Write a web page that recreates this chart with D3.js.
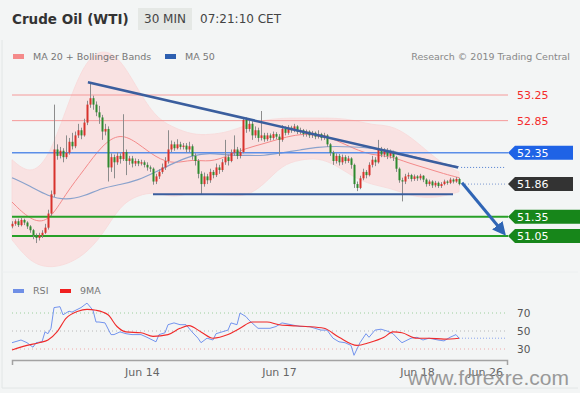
<!DOCTYPE html>
<html>
<head>
<meta charset="utf-8">
<script src="https://cdn.jsdelivr.net/npm/d3@7"></script>
<style>
  body { margin: 0; background: #f3f5f5; font-family: "DejaVu Sans", sans-serif; }
  svg { display: block; }
</style>
</head>
<body>
<div class="container"></div>
<script>
const width = 580, height = 393;

// 30 min candles, open = previous close
const firstOpen = 51.20;
const closes = [
  51.24,51.28,51.22,51.30,51.26,51.20,51.14,51.06,51.02,51.06,
  51.10,51.18,51.40,51.70,52.40,52.30,52.38,52.28,52.35,52.52,
  52.45,52.62,52.70,52.62,52.82,53.10,53.20,53.10,52.98,52.90,
  52.68,52.72,52.12,52.28,52.20,52.30,52.25,52.36,52.22,52.26,
  52.18,52.22,52.18,52.20,52.16,52.12,52.10,51.90,51.98,52.05,
  52.12,52.22,52.40,52.48,52.42,52.48,52.44,52.46,52.40,52.45,
  52.30,52.22,52.02,51.86,51.98,51.92,52.05,52.00,52.12,52.08,
  52.20,52.28,52.22,52.35,52.40,52.30,52.36,52.86,52.72,52.80,
  52.62,52.70,52.58,52.62,52.56,52.62,52.58,52.64,52.60,52.55,
  52.72,52.66,52.74,52.70,52.76,52.68,52.70,52.64,52.68,52.62,
  52.66,52.60,52.64,52.58,52.62,52.48,52.35,52.22,52.30,52.20,
  52.28,52.22,52.26,52.16,51.86,51.80,51.95,52.05,52.00,52.16,
  52.24,52.20,52.40,52.32,52.38,52.30,52.36,52.28,52.10,51.92,
  51.90,51.98,52.00,51.94,51.98,51.95,51.99,51.93,51.86,51.90,
  51.84,51.88,51.83,51.86,51.90,51.88,51.93,51.90,51.94,51.86
];
const highs = [
  51.28,51.31,51.32,51.33,51.32,51.28,51.22,51.16,51.09,51.10,
  51.14,51.24,51.46,51.76,53.10,52.48,52.44,52.42,52.62,52.58,
  52.66,52.68,52.80,52.74,52.88,53.16,53.45,53.24,53.15,53.08,
  52.94,52.80,52.76,52.34,52.32,52.36,52.34,52.95,52.40,52.30,
  52.30,52.26,52.25,52.24,52.23,52.20,52.15,52.12,52.02,52.09,
  52.18,52.28,52.70,52.54,52.52,52.56,52.52,52.50,52.50,52.52,
  52.48,52.34,52.25,52.06,52.04,52.02,52.10,52.08,52.18,52.16,
  52.25,52.55,52.32,52.40,52.62,52.44,52.42,52.90,52.90,52.86,
  52.84,52.76,52.74,53.00,52.66,52.66,52.65,52.68,52.67,52.64,
  52.78,52.76,52.78,52.77,52.80,52.78,52.74,52.72,52.71,52.70,
  52.69,52.68,52.70,52.66,52.66,52.64,52.50,52.38,52.34,52.33,
  52.32,52.31,52.30,52.28,52.18,51.90,51.99,52.10,52.08,52.20,
  52.30,52.28,52.55,52.44,52.42,52.42,52.40,52.38,52.30,52.12,
  51.96,52.02,52.04,52.02,52.01,52.00,52.02,52.00,51.95,51.93,
  51.92,51.91,51.90,51.89,51.93,51.92,51.96,51.95,51.97,51.96
];
const lows = [
  51.17,51.21,51.19,51.20,51.22,51.16,51.10,51.00,50.94,50.98,
  51.02,51.08,51.15,51.36,51.66,52.24,52.26,52.20,52.25,52.32,
  52.40,52.42,52.58,52.56,52.60,52.78,53.05,53.02,52.92,52.80,
  52.55,52.62,51.90,52.05,51.95,52.16,52.18,52.22,52.00,52.16,
  52.12,52.14,52.14,52.15,52.12,52.07,52.05,51.85,51.86,51.94,
  52.02,52.08,52.18,52.36,52.38,52.40,52.40,52.40,52.35,52.36,
  52.24,52.15,51.95,51.70,51.82,51.86,51.88,51.95,51.97,52.02,
  52.05,52.16,52.15,52.20,52.30,52.25,52.26,52.34,52.66,52.68,
  52.55,52.58,52.52,52.54,52.52,52.53,52.54,52.55,52.56,52.30,
  52.52,52.62,52.63,52.66,52.67,52.64,52.64,52.60,52.60,52.58,
  52.58,52.56,52.57,52.54,52.55,52.44,52.30,52.16,52.18,52.15,
  52.16,52.18,52.19,52.10,51.80,51.75,51.78,51.92,51.95,51.98,
  52.12,52.14,52.18,52.28,52.28,52.25,52.26,52.22,52.05,51.88,
  51.59,51.86,51.94,51.90,51.91,51.91,51.92,51.89,51.82,51.83,
  51.80,51.81,51.80,51.80,51.84,51.85,51.86,51.87,51.88,51.84
];

// indicator readings (candle index)
const bandIdx = [0,6,12,18,24,30,36,42,48,54,60,66,72,78,84,90,96,102,108,114,120,126,132,138,144,149];
const ma20 = [51.58,51.30,51.24,51.72,52.08,52.47,52.66,52.50,52.27,52.17,52.25,52.20,52.30,52.42,52.49,52.58,52.64,52.64,52.55,52.41,52.31,52.30,52.19,52.11,52.02,51.96];
const bbUpper = [52.24,52.00,52.24,53.02,53.76,53.98,53.83,53.33,52.89,52.74,52.63,52.63,52.67,52.78,52.86,52.89,52.89,52.89,52.89,52.86,52.78,52.78,52.63,52.39,52.16,52.05];
const bbLower = [50.99,50.64,50.55,50.60,50.75,51.05,51.53,51.69,51.74,51.64,51.74,51.69,51.69,51.66,51.85,52.16,52.24,52.27,52.16,51.96,51.85,51.80,51.69,51.64,51.67,51.74];
const ma50 = [51.96,51.83,51.67,51.61,51.67,51.80,51.85,51.92,52.05,52.19,52.31,52.35,52.31,52.31,52.30,52.35,52.39,52.44,52.45,52.44,52.42,52.39,52.31,52.24,52.17,52.13];

const rsiIdx = [0,3,5,7,8,10,11,12,13,14,16,17,19,20,23,25,27,28,29,31,33,34,36,38,40,43,45,48,49,51,52,54,56,58,60,62,63,65,67,68,69,72,73,75,76,78,79,82,84,86,88,90,93,96,99,103,105,107,109,111,113,114,116,118,119,121,123,125,127,129,130,133,135,137,139,142,144,146,148,149];
const rsiVals = [37,40,37,32,37,38,49,47,53,76,77,68,72,71,76,81,73,60,60,59,46,46,49,47,46,46,43,38,46,48,57,59,57,57,49,42,37,42,40,47,48,51,59,57,70,66,62,53,53,53,55,59,57,55,55,51,51,42,38,37,34,23,37,47,43,51,52,50,47,40,37,42,43,40,42,40,39,43,46,42];
const rsiMaIdx = [0,5,9,12,15,18,22,25,28,32,35,38,43,47,52,56,59,63,67,72,76,80,85,89,93,98,104,109,115,119,124,127,130,135,139,144,149];
const rsiMaVals = [29,34,37,40,49,64,72,74,73,68,55,49,48,44,46,53,56,49,42,46,53,60,60,57,56,55,53,43,34,37,43,49,48,42,42,41,42];

const levels = [53.25, 52.85, 52.35, 51.86, 51.35, 51.05];
const trendline = [[25.3, 53.45], [148.7, 52.12]];
const support = [[47, 51.70], [147, 51.70]];
const forecast = [[150, 51.88], [163.5, 51.12]];
const dateTicks = [43.3, 89, 135, 157.7];
const dateLabels = ['Jun 14', 'Jun 17', 'Jun 18', 'Jun 26'];
const rsiTicks = [70, 50, 30];

const x = d3.scaleLinear().domain([0, 165]).range([12, 507]);
const y = d3.scaleLinear().domain([51.05, 53.25]).range([236, 95]);
const yr = d3.scaleLinear().domain([30, 70]).range([349, 313]);

const svg = d3.select('.container')
  .append('svg')
  .attr('width', width)
  .attr('height', height);

const defs = svg.append('defs');
defs.append('clipPath').attr('id', 'plot')
  .append('rect').attr('x', 6).attr('y', 44).attr('width', 574).attr('height', 228);
defs.append('marker')
  .attr('id', 'head')
  .attr('viewBox', '0 0 10 10')
  .attr('refX', 6).attr('refY', 5)
  .attr('markerWidth', 4.5).attr('markerHeight', 4.5)
  .attr('orient', 'auto')
  .append('path').attr('d', 'M0,0L10,5L0,10z').attr('fill', '#2f65b5');

// frame
svg.append('line').attr('x1', 2).attr('x2', 2).attr('y1', 40).attr('y2', 388).attr('stroke', '#e2e6e6');
svg.append('line').attr('x1', 2).attr('x2', 578).attr('y1', 388).attr('y2', 388).attr('stroke', '#e2e6e6');
svg.append('line').attr('x1', 2).attr('x2', 578).attr('y1', 272).attr('y2', 272).attr('stroke', '#eceff0');

// header
svg.append('text').attr('x', 12).attr('y', 24)
  .attr('font-size', 13.5).attr('font-weight', 'bold').attr('fill', '#333')
  .text('Crude Oil (WTI)');
svg.append('rect').attr('x', 138).attr('y', 8).attr('width', 54).attr('height', 22).attr('fill', '#e5e8e5');
svg.append('text').attr('x', 165).attr('y', 23).attr('text-anchor', 'middle')
  .attr('font-size', 12).attr('fill', '#444').text('30 MIN');
svg.append('text').attr('x', 200).attr('y', 23)
  .attr('font-size', 12).attr('fill', '#444').text('07:21:10 CET');

const plot = svg.append('g').attr('clip-path', 'url(#plot)');

// bollinger band
const bandData = bandIdx.map((k, i) => ({k, m: ma20[i], u: bbUpper[i], l: bbLower[i], m50: ma50[i]}));
plot.append('path')
  .datum(bandData)
  .attr('fill', '#fcdcdc')
  .attr('opacity', 0.75)
  .attr('stroke', '#fad0d0')
  .attr('stroke-width', 0.8)
  .attr('d', d3.area().curve(d3.curveBasis).x(d => x(d.k)).y0(d => y(d.l)).y1(d => y(d.u)));

// legend
const legend = [['#f48a8a', 'MA 20 + Bollinger Bands', 13], ['#2d5fb0', 'MA 50', 165]];
legend.forEach(d => {
  svg.append('rect').attr('x', d[2]).attr('y', 54).attr('width', 11).attr('height', 5).attr('fill', d[0]);
  svg.append('text').attr('x', d[2] + 20).attr('y', 57).attr('dy', '0.35em')
    .attr('font-size', 9.5).attr('fill', '#777').text(d[1]);
});
svg.append('text').attr('x', 570).attr('y', 57).attr('dy', '0.35em').attr('text-anchor', 'end')
  .attr('font-size', 9.5).attr('fill', '#888').text('Research \u00a9 2019 Trading Central');

// horizontal levels
const levelColor = ['#f59a9a', '#f59a9a', '#5a8ee8', null, '#28a028', '#28a028'];
const levelWidth = [1, 1, 1.5, 0, 2, 2];
levels.forEach((v, i) => {
  if (!levelColor[i]) return;
  svg.append('line')
    .attr('x1', x(0)).attr('x2', 508)
    .attr('y1', y(v)).attr('y2', y(v))
    .attr('stroke', levelColor[i]).attr('stroke-width', levelWidth[i]);
});

plot.append('path').datum(bandData)
  .attr('fill', 'none').attr('stroke', '#f48a8a').attr('stroke-width', 1)
  .attr('d', d3.line().curve(d3.curveBasis).x(d => x(d.k)).y(d => y(d.m)));
plot.append('path').datum(bandData)
  .attr('fill', 'none').attr('stroke', '#8aa2cc').attr('stroke-width', 1.2)
  .attr('d', d3.line().curve(d3.curveBasis).x(d => x(d.k)).y(d => y(d.m50)));

// candles
const candles = closes.map((c, i) => ({i, o: i ? closes[i - 1] : firstOpen, h: highs[i], l: lows[i], c}));
const cg = svg.append('g');
cg.selectAll('line')
  .data(candles)
  .enter()
  .append('line')
  .attr('x1', d => x(d.i) + 0.5).attr('x2', d => x(d.i) + 0.5)
  .attr('y1', d => y(d.h)).attr('y2', d => y(d.l))
  .attr('stroke', '#8c8c8c').attr('stroke-width', 1);
cg.selectAll('rect')
  .data(candles)
  .enter()
  .append('rect')
  .attr('x', d => x(d.i) - 0.5)
  .attr('width', 2)
  .attr('y', d => y(Math.max(d.o, d.c)))
  .attr('height', d => Math.max(1.2, Math.abs(y(d.o) - y(d.c))))
  .attr('fill', d => d.c >= d.o ? '#d8322c' : '#2e8a2e');

// trend lines
const ln = d3.line().x(d => x(d[0])).y(d => y(d[1]));
svg.append('path').datum(trendline).attr('d', ln)
  .attr('stroke', '#3a5e9e').attr('stroke-width', 2.5).attr('fill', 'none');
svg.append('path').datum(support).attr('d', ln)
  .attr('stroke', '#3a5e9e').attr('stroke-width', 2).attr('fill', 'none');
svg.append('path').datum([[trendline[1][0] + 1, trendline[1][1]], [164.5, trendline[1][1]]]).attr('d', ln)
  .attr('stroke', '#4d7cd0').attr('stroke-width', 1).attr('stroke-dasharray', '1,2').attr('fill', 'none');
svg.append('path').datum([[150, levels[3]], [164.5, levels[3]]]).attr('d', ln)
  .attr('stroke', '#7d9ad0').attr('stroke-width', 1).attr('stroke-dasharray', '1,2').attr('fill', 'none');
svg.append('path').datum(forecast).attr('d', ln)
  .attr('stroke', '#2f65b5').attr('stroke-width', 3).attr('fill', 'none')
  .attr('marker-end', 'url(#head)');

// price labels
const boxColor = [null, null, '#1f63e6', '#333333', '#17861a', '#17861a'];
const boxRight = [0, 0, 573, 573, 580, 580];
levels.forEach((v, i) => {
  const yc = y(v);
  if (boxColor[i]) {
    svg.append('path')
      .attr('d', `M508,${yc}L515,${yc - 7}L${boxRight[i]},${yc - 7}L${boxRight[i]},${yc + 7}L515,${yc + 7}Z`)
      .attr('fill', boxColor[i]);
  }
  svg.append('text')
    .attr('x', 517).attr('y', yc).attr('dy', '0.36em')
    .attr('font-size', 11)
    .attr('fill', boxColor[i] ? '#fff' : '#f42a2a')
    .text(v.toFixed(2));
});

// RSI panel
const rsiLegend = [['#6f8fe6', 'RSI', 13], ['#f02020', '9MA', 60]];
rsiLegend.forEach(d => {
  svg.append('rect').attr('x', d[2]).attr('y', 289).attr('width', 11).attr('height', 4).attr('fill', d[0]);
  svg.append('text').attr('x', d[2] + 20).attr('y', 291).attr('dy', '0.35em')
    .attr('font-size', 9.5).attr('fill', '#777').text(d[1]);
});

const gridColor = ['#9ccf9c', '#b8b8b8', '#f0a8a8'];
rsiTicks.forEach((t, i) => {
  svg.append('line')
    .attr('x1', x(0)).attr('x2', x(165))
    .attr('y1', yr(t)).attr('y2', yr(t))
    .attr('stroke', gridColor[i]).attr('stroke-dasharray', '1,3');
  svg.append('text').attr('x', 517).attr('y', yr(t)).attr('dy', '0.36em')
    .attr('font-size', 10.5).attr('fill', '#555').text(t);
});

svg.append('path')
  .datum(rsiIdx.map((k, i) => [k, rsiVals[i]]))
  .attr('fill', 'none').attr('stroke', '#7394ee').attr('stroke-width', 1)
  .attr('d', d3.line().x(d => x(d[0])).y(d => yr(d[1])));
svg.append('path')
  .datum([[149, rsiVals[rsiVals.length - 1]], [165, rsiVals[rsiVals.length - 1]]])
  .attr('fill', 'none').attr('stroke', '#8aa6ee').attr('stroke-dasharray', '1,2')
  .attr('d', d3.line().x(d => x(d[0])).y(d => yr(d[1])));
svg.append('path')
  .datum(rsiMaIdx.map((k, i) => [k, rsiMaVals[i]]))
  .attr('fill', 'none').attr('stroke', '#f02a2a').attr('stroke-width', 1.1)
  .attr('d', d3.line().curve(d3.curveMonotoneX).x(d => x(d[0])).y(d => yr(d[1])));

const axis = svg.append('g')
  .attr('transform', 'translate(0,360)')
  .call(d3.axisBottom(x)
    .tickValues(dateTicks)
    .tickFormat((d, i) => dateLabels[i])
    .tickSize(0)
    .tickSizeOuter(5)
    .tickPadding(8));
axis.select('.domain').attr('stroke', '#a3a3a3').attr('stroke-width', 1.5);
axis.selectAll('text').attr('font-size', 11).attr('fill', '#666').attr('font-family', '"DejaVu Sans", sans-serif');

// watermark
svg.append('text').attr('x', 408).attr('y', 385)
  .attr('font-family', '"Liberation Sans", sans-serif')
  .attr('font-size', 21).attr('fill', '#8a8a8a').attr('opacity', 0.85)
  .text('www.forexre.com');
</script>
</body>
</html>
